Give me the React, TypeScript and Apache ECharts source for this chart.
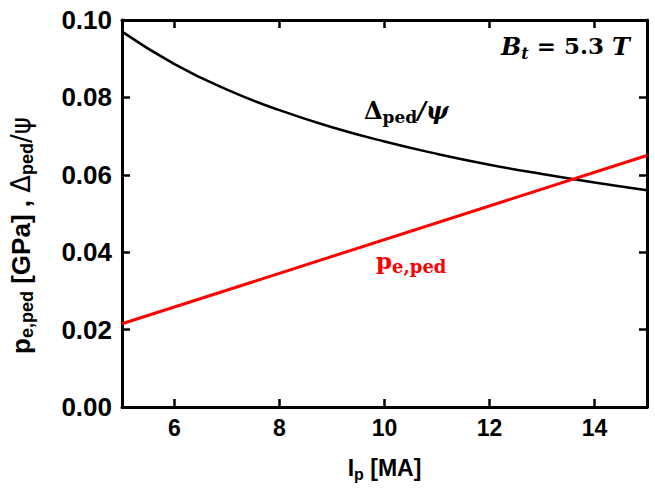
import React, { useEffect, useRef } from "react";
import * as echarts from "echarts";

const xTicks = [6, 8, 10, 12, 14];
const ipValues = [5, 6, 7, 8, 9, 10, 11, 12, 13, 14, 15];
const deltaPedPsi = [0.097, 0.0886, 0.082, 0.0767, 0.0723, 0.0686, 0.0654, 0.0626, 0.0602, 0.058, 0.056];
const pePedIp = [5, 15];
const pePed = [0.0215, 0.065];

export default function App() {
  const ref = useRef<HTMLDivElement>(null);
  useEffect(() => {
    const chart = echarts.init(ref.current!, null, { renderer: "svg" });
    const font = "Liberation Sans";
    const serif = "DejaVu Serif";
    const axisBase = {
      axisLine: { show: true, onZero: false, lineStyle: { color: "#000", width: 3 } },
      splitLine: { show: false },
    };
    const tick = { show: true, inside: true, length: 8, lineStyle: { width: 2.5, color: "#000" } };
    chart.setOption({
      animation: false,
      backgroundColor: "#fff",
      grid: { left: 122, right: 8, top: 20, bottom: 86 },
      xAxis: [
        {
          type: "value",
          min: 5,
          max: 15,
          position: "bottom",
          ...axisBase,
          axisTick: { ...tick, customValues: xTicks },
          axisLabel: { customValues: xTicks, fontFamily: font, fontWeight: "bold", fontSize: 23, color: "#000", margin: 9 },
          name: "{b|I}{s|p}{b| [MA]}",
          nameLocation: "middle",
          nameGap: 49,
          nameTextStyle: {
            rich: {
              b: { fontFamily: font, fontWeight: "bold", fontSize: 23, color: "#000", lineHeight: 26, verticalAlign: "top" },
              s: { fontFamily: font, fontWeight: "bold", fontSize: 16, color: "#000", lineHeight: 10, verticalAlign: "bottom" },
            },
          },
        },
        {
          type: "value",
          min: 5,
          max: 15,
          position: "top",
          ...axisBase,
          axisTick: { ...tick, customValues: xTicks },
          axisLabel: { show: false },
        },
      ],
      yAxis: [
        {
          type: "value",
          min: 0,
          max: 0.1,
          interval: 0.02,
          position: "left",
          ...axisBase,
          axisTick: tick,
          axisLabel: {
            fontFamily: font,
            fontWeight: "bold",
            fontSize: 26,
            color: "#000",
            margin: 10,
            formatter: (v: number) => v.toFixed(2),
          },
          name: "{b|p}{s|e,ped}{b| [GPa] , }{d|Δ}{s|ped}{d|/ψ}",
          nameLocation: "middle",
          nameGap: 86,
          nameTextStyle: {
            padding: [0, 44, 0, 0],
            rich: {
              b: { fontFamily: font, fontWeight: "bold", fontSize: 26, color: "#000", lineHeight: 28, verticalAlign: "top" },
              s: { fontFamily: font, fontWeight: "bold", fontSize: 18, color: "#000", lineHeight: 10, verticalAlign: "bottom" },
              d: { fontFamily: "DejaVu Sans", fontWeight: "normal", fontSize: 26, color: "#000", lineHeight: 28, verticalAlign: "top" },
            },
          },
        },
        {
          type: "value",
          min: 0,
          max: 0.1,
          interval: 0.02,
          position: "right",
          ...axisBase,
          axisTick: tick,
          axisLabel: { show: false },
        },
      ],
      series: [
        {
          type: "line",
          data: ipValues.map((x, i) => [x, deltaPedPsi[i]]),
          smooth: true,
          showSymbol: false,
          lineStyle: { color: "#000", width: 2.5 },
        },
        {
          type: "line",
          data: pePedIp.map((x, i) => [x, pePed[i]]),
          showSymbol: false,
          lineStyle: { color: "#ff0000", width: 3 },
        },
      ],
      graphic: [
        {
          type: "text",
          left: 364,
          top: 98,
          style: {
            text: "{b|Δ}{s|ped}{i|/ψ}",
            rich: {
              b: { fontFamily: serif, fontWeight: "bold", fontSize: 24, fill: "#000", lineHeight: 27, verticalAlign: "top" },
              s: { fontFamily: serif, fontWeight: "bold", fontSize: 17, fill: "#000", lineHeight: 10, verticalAlign: "bottom" },
              i: { fontFamily: serif, fontWeight: "bold", fontStyle: "italic", fontSize: 24, fill: "#000", lineHeight: 27, verticalAlign: "top" },
            },
          },
        },
        {
          type: "text",
          left: 376,
          top: 249,
          style: {
            text: "{b|p}{s|e,ped}",
            rich: {
              b: { fontFamily: serif, fontWeight: "bold", fontSize: 23, fill: "#ff0000", lineHeight: 26, verticalAlign: "top" },
              s: { fontFamily: serif, fontWeight: "bold", fontSize: 18, fill: "#ff0000", lineHeight: 10, verticalAlign: "bottom" },
            },
          },
        },
        {
          type: "text",
          left: 501,
          top: 34,
          style: {
            text: "{i|B}{s|t}{n| = 5.3 }{i|T}",
            rich: {
              i: { fontFamily: serif, fontWeight: "bold", fontStyle: "italic", fontSize: 24, fill: "#000", lineHeight: 27, verticalAlign: "top" },
              s: { fontFamily: serif, fontStyle: "italic", fontWeight: "bold", fontSize: 16, fill: "#000", lineHeight: 10, verticalAlign: "bottom" },
              n: { fontFamily: serif, fontWeight: "bold", fontSize: 23, fill: "#000", lineHeight: 27, verticalAlign: "top" },
            },
          },
        },
      ],
    });
    return () => chart.dispose();
  }, []);
  return <div ref={ref} style={{ width: 655, height: 493, position: "absolute", left: 0, top: 0 }} />;
}
